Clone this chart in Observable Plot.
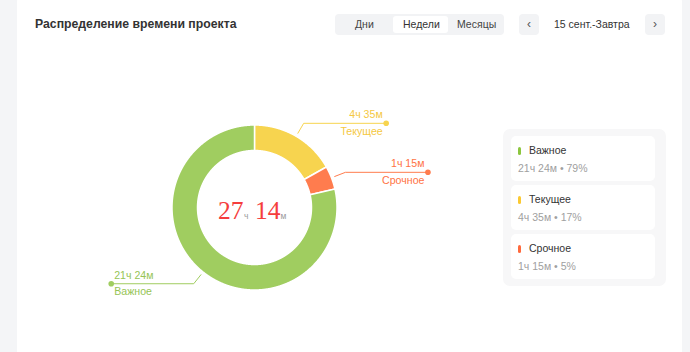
<!DOCTYPE html>
<html>
<head>
<meta charset="utf-8">
<script src="https://cdn.jsdelivr.net/npm/d3@7"></script>
<script src="https://cdn.jsdelivr.net/npm/@observablehq/plot@0.6"></script>
<style>
  html, body { margin: 0; padding: 0; }
  body { width: 690px; height: 352px; overflow: hidden; background: #f4f5f7; position: relative;
         font-family: "Liberation Sans", Arial, sans-serif; color: #333; }
  .card { position: absolute; left: 17px; top: -6px; width: 665px; height: 420px; background: #fff; border-radius: 8px; }
  .abs { position: absolute; }
  .title { left: 35px; top: 16px; font-size: 12.25px; font-weight: bold; color: #333; line-height: 16px; white-space: nowrap; }
  .seg { left: 335px; top: 14px; width: 169px; height: 21px; background: #f2f3f5; border-radius: 4px; }
  .segtxt { font-size: 10.5px; line-height: 21px; color: #444; white-space: nowrap; }
  .active { left: 393px; top: 16px; width: 55px; height: 17px; background: #fff; border-radius: 3px; }
  .btn { width: 20px; height: 21px; background: #f2f3f5; border-radius: 4px; font-size: 12px; line-height: 20px; text-align: center; color: #555; }
  .legend { left: 503px; top: 129px; width: 163px; height: 157px; background: #f7f7f8; border-radius: 7px; }
  .lrow { left: 511px; width: 144px; height: 45px; background: #fff; border-radius: 5px; }
  .lbar { width: 3px; height: 8px; border-radius: 2px; }
  .lname { font-size: 10.5px; color: #333; line-height: 14px; white-space: nowrap; }
  .lsub { font-size: 10.5px; color: #a0a0a0; line-height: 14px; white-space: nowrap; }
  #plot { position: absolute; left: 54px; top: 87px; }
</style>
</head>
<body>
<div class="card"></div>
<div id="ui"></div>
<div id="plot"></div>
<script>
// ---- data ----
const categories = ["Текущее", "Срочное", "Важное"];
const minutes = [275, 75, 1284];
const sliceColors = ["#f7d44f", "#ff7c4e", "#a0cd60"];
const labelColors = ["#f5c842", "#ff7344", "#96c456"];
const legendOrder = ["Важное", "Текущее", "Срочное"];
const legendBarColors = ["#8cc63f", "#fbc932", "#ff6a3d"];
const periodOptions = ["Дни", "Недели", "Месяцы"];
const activePeriod = "Недели";
const dateRange = "15 сент.-Завтра";
const titleText = "Распределение времени проекта";

// ---- helpers ----
const fmt = m => `${Math.floor(m / 60)}ч ${m % 60}м`;
const total = d3.sum(minutes);

// ---- HTML UI ----
const ui = document.getElementById("ui");
function add(cls, style, text) {
  const d = document.createElement("div");
  d.className = "abs " + cls;
  Object.assign(d.style, style);
  if (text != null) d.textContent = text;
  ui.appendChild(d);
  return d;
}
add("title", {}, titleText);
add("seg", {});
add("active", {});
const segX = [355, 403, 457];
periodOptions.forEach((p, i) => add("segtxt", {left: segX[i] + "px", top: "14px", color: p === activePeriod ? "#333" : "#444"}, p));
add("btn", {left: "519px", top: "14px"}, "‹");
add("segtxt", {left: "554px", top: "14px", color: "#333"}, dateRange);
add("btn", {left: "645px", top: "14px"}, "›");

add("legend", {});
legendOrder.forEach((name, i) => {
  const k = categories.indexOf(name);
  const top = 136 + i * 49;
  add("lrow", {top: top + "px"});
  add("lbar", {left: "518px", top: (top + 11) + "px", background: legendBarColors[i]});
  add("lname", {left: "529px", top: (top + 7) + "px"}, name);
  const pct = Math.round(minutes[k] / total * 100);
  add("lsub", {left: "518px", top: (top + 25) + "px"}, `${fmt(minutes[k])} • ${pct}%`);
});

// ---- donut geometry from data ----
const rOuter = 82.5, rInner = 57;
const rad = a => a * Math.PI / 180;
const pos = (r, a) => ({x: r * Math.sin(rad(a)), y: -r * Math.cos(rad(a))});
let acc = 0;
const slices = categories.map((c, i) => {
  const a0 = acc / total * 360;
  acc += minutes[i];
  const a1 = acc / total * 360;
  return {category: c, value: minutes[i], a0, a1, mid: (a0 + a1) / 2, color: sliceColors[i], label: labelColors[i]};
});

const marks = [];
for (const s of slices) {
  const pts = [];
  const n = Math.max(2, Math.ceil((s.a1 - s.a0) * 4));
  for (let j = 0; j <= n; j++) pts.push(pos(rOuter, s.a0 + (s.a1 - s.a0) * j / n));
  for (let j = n; j >= 0; j--) pts.push(pos(rInner, s.a0 + (s.a1 - s.a0) * j / n));
  marks.push(Plot.line(pts, {x: "x", y: "y", fill: s.color, stroke: "#fff", strokeWidth: 1.5, curve: "linear-closed"}));
}

// leader lines & labels
const leaderLen = 82.5;
const lblFont = "Liberation Sans, Arial";
for (const s of slices) {
  const p0 = pos(86, s.mid);
  const p1 = pos(97.5, s.mid);
  const right = p1.x >= 0;
  const p2 = {x: p1.x + (right ? leaderLen : -leaderLen), y: p1.y};
  marks.push(Plot.line([p0, p1, p2], {x: "x", y: "y", stroke: s.color, strokeWidth: 1}));
  marks.push(Plot.dot([p2], {x: "x", y: "y", r: 2.8, fill: s.color}));
  const tx = p2.x + (right ? -3.5 : 3);
  const anchor = right ? "end" : "start";
  marks.push(Plot.text([{x: tx, y: p2.y, t: fmt(s.value)}], {x: "x", y: "y", text: "t", dy: -8.3, textAnchor: anchor, fill: s.label, fontSize: 10.6, fontFamily: lblFont}));
  marks.push(Plot.text([{x: tx, y: p2.y, t: s.category}], {x: "x", y: "y", text: "t", dy: 8.3, textAnchor: anchor, fill: s.label, fontSize: 10.6, fontFamily: lblFont}));
}

// center total
const totH = Math.floor(total / 60), totM = total % 60;
const center = [{x: 0, y: 0}];
const serif = "Liberation Serif, Times New Roman, serif";
marks.push(Plot.text(center, {x: "x", y: "y", text: () => String(totH), textAnchor: "start", dx: -36.5, dy: 3, fill: "#f53d3d", fontSize: 25.5, fontFamily: serif}));
marks.push(Plot.text(center, {x: "x", y: "y", text: () => "ч", textAnchor: "start", dx: -10.5, dy: 8.6, fill: "#999", fontSize: 8.5, fontFamily: lblFont}));
marks.push(Plot.text(center, {x: "x", y: "y", text: () => String(totM), textAnchor: "start", dx: 0.5, dy: 3, fill: "#f53d3d", fontSize: 25.5, fontFamily: serif}));
marks.push(Plot.text(center, {x: "x", y: "y", text: () => "м", textAnchor: "start", dx: 26, dy: 8.6, fill: "#999", fontSize: 8.5, fontFamily: lblFont}));

const chart = Plot.plot({
  width: 400,
  height: 240,
  margin: 0,
  x: {domain: [-200, 200], range: [0, 400], axis: null},
  y: {domain: [-120, 120], range: [0, 240], axis: null},
  style: {background: "transparent", overflow: "visible"},
  marks
});
document.getElementById("plot").appendChild(chart);
</script>
</body>
</html>
